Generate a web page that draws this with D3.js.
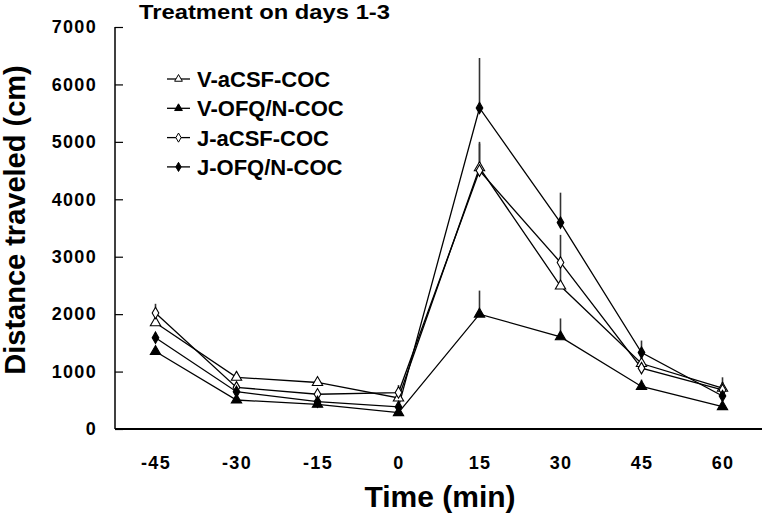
<!DOCTYPE html>
<html>
<head>
<meta charset="utf-8">
<script src="https://cdn.jsdelivr.net/npm/d3@7"></script>
<style>
  html, body { margin: 0; padding: 0; background: #fff; }
  svg { display: block; }
  text { font-family: "Liberation Sans", Arial, Helvetica, sans-serif; font-weight: bold; fill: #000; }
</style>
</head>
<body>
<svg id="chart" width="762" height="519"></svg>
<script>
// ---- data ----
const timeLabels = ["-45", "-30", "-15", "0", "15", "30", "45", "60"];
const yTickValues = [0, 1000, 2000, 3000, 4000, 5000, 6000, 7000];
const seriesNames = ["V-aCSF-COC", "V-OFQ/N-COC", "J-aCSF-COC", "J-OFQ/N-COC"];
const vAcsfValues = [1850, 900, 810, 540, 4550, 2490, 1140, 710];
const vOfqValues  = [1350, 505, 430, 285, 2000, 1605, 740, 390];
const jAcsfValues = [2020, 725, 605, 635, 4500, 2900, 1060, 680];
const jOfqValues  = [1590, 650, 475, 385, 5590, 3595, 1330, 575];
const vAcsfErr = [120, 100, 60, 130, 420, 400, 120, 110];
const vOfqErr  = [70, 50, 40, 40, 410, 320, 120, 50];
const jAcsfErr = [160, 70, 50, 130, 500, 480, 110, 220];
const jOfqErr  = [90, 70, 50, 40, 870, 520, 210, 90];

(function () {
const seriesValues = [vAcsfValues, vOfqValues, jAcsfValues, jOfqValues];
const seriesErrors = [vAcsfErr, vOfqErr, jAcsfErr, jOfqErr];
const seriesShape = ["triangle", "triangle", "diamond", "diamond"];
const seriesFilled = [false, true, false, true];

const svg = d3.select("#chart");
const mLeft = 115, mRight = 763, mTop = 27, mBottom = 429;

const x = d3.scalePoint().domain(timeLabels).range([mLeft, mRight]).padding(0.5);
const y = d3.scaleLinear().domain([0, 7000]).range([mBottom, mTop]);

// axes
const yAxis = d3.axisLeft(y).tickValues(yTickValues).tickSize(-8).tickPadding(18).tickFormat(d3.format("d"));
const gy = svg.append("g").attr("transform", `translate(${mLeft},0)`).call(yAxis);
gy.select(".domain").attr("stroke", "#000").attr("stroke-width", 1.5).attr("d", `M0,${mTop}V${mBottom}`);
gy.selectAll(".tick line").attr("stroke", "#000").attr("stroke-width", 1.2);
gy.selectAll(".tick text").attr("font-size", 18).attr("letter-spacing", 1.3)
  .attr("font-family", "Liberation Sans, Arial, sans-serif").attr("font-weight", "bold").attr("fill", "#000");

const xAxis = d3.axisBottom(x).tickSize(0).tickPadding(27);
const gx = svg.append("g").attr("transform", `translate(0,${mBottom})`).call(xAxis);
gx.select(".domain").attr("stroke", "#000").attr("stroke-width", 2).attr("d", `M${mLeft},0H762`);
gx.selectAll(".tick text").attr("font-size", 18).attr("letter-spacing", 1.3)
  .attr("font-family", "Liberation Sans, Arial, sans-serif").attr("font-weight", "bold").attr("fill", "#000");

// axis titles
svg.append("text").attr("transform", `translate(25,220) rotate(-90)`).attr("text-anchor", "middle")
  .attr("font-size", 29).text("Distance traveled (cm)");
svg.append("text").attr("x", 440).attr("y", 507).attr("text-anchor", "middle")
  .attr("font-size", 30).text("Time (min)");
svg.append("text").attr("x", 139).attr("y", 19).attr("font-size", 21)
  .attr("textLength", 251).attr("lengthAdjust", "spacingAndGlyphs")
  .text("Treatment on days 1-3");

const symFor = s => s === "triangle" ? d3.symbol(d3.symbolTriangle, 46) : d3.symbol(d3.symbolDiamond, 38);

// error bars
seriesValues.forEach((vals, si) => {
  svg.append("g").selectAll("line").data(vals).join("line")
    .attr("x1", (d, i) => x(timeLabels[i])).attr("x2", (d, i) => x(timeLabels[i]))
    .attr("y1", d => y(d)).attr("y2", (d, i) => y(d + seriesErrors[si][i]))
    .attr("stroke", "#333").attr("stroke-width", 1.6);
});

// lines
const line = d3.line().x((d, i) => x(timeLabels[i])).y(d => y(d));
seriesValues.forEach(vals => {
  svg.append("path").datum(vals).attr("d", line).attr("fill", "none")
    .attr("stroke", "#000").attr("stroke-width", 1.3);
});

// markers
seriesValues.forEach((vals, si) => {
  svg.append("g").selectAll("path").data(vals).join("path")
    .attr("transform", (d, i) => `translate(${x(timeLabels[i])},${y(d)})`)
    .attr("d", symFor(seriesShape[si]))
    .attr("fill", seriesFilled[si] ? "#000" : "#fff")
    .attr("stroke", "#000").attr("stroke-width", 1.1);
});

// legend
const legend = svg.append("g");
seriesNames.forEach((name, i) => {
  const ly = 79 + i * 29.3;
  legend.append("line").attr("x1", 167).attr("x2", 190).attr("y1", ly).attr("y2", ly)
    .attr("stroke", "#000").attr("stroke-width", 1.3);
  legend.append("path").attr("transform", `translate(178.5,${ly})`)
    .attr("d", seriesShape[i] === "triangle" ? d3.symbol(d3.symbolTriangle, 26)() : d3.symbol(d3.symbolDiamond, 24)())
    .attr("fill", seriesFilled[i] ? "#000" : "#fff").attr("stroke", "#000").attr("stroke-width", 1);
  legend.append("text").attr("x", 197).attr("y", ly + 8).attr("font-size", 22).text(name);
});
})();
</script>
</body>
</html>
